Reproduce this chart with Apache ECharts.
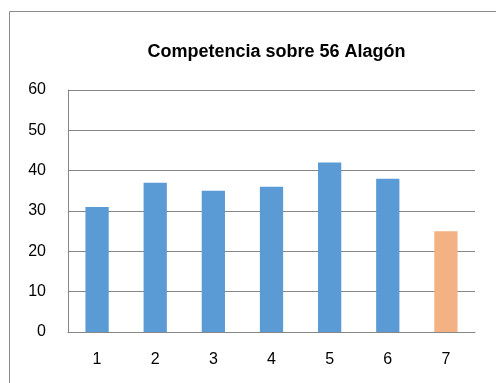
<!DOCTYPE html>
<html>
<head>
<meta charset="utf-8">
<script src="https://cdn.jsdelivr.net/npm/echarts@6/dist/echarts.min.js"></script>
<style>
  html, body { margin: 0; padding: 0; background: #fff; }
  #chart { width: 496px; height: 383px; }
</style>
</head>
<body>
<div id="chart"></div>
<script>
// Chart data
const titleText = 'Competencia sobre 56 Alagón';
const categories = ['1', '2', '3', '4', '5', '6', '7'];
const values = [31, 37, 35, 36, 42, 38, 25];
const barColors = ['#5B9BD5', '#5B9BD5', '#5B9BD5', '#5B9BD5', '#5B9BD5', '#5B9BD5', '#F4B183'];
const yTicks = { min: 0, max: 60, interval: 10 };

const chart = echarts.init(document.getElementById('chart'), null, { renderer: 'canvas' });

const font = 'Liberation Sans, Arial, sans-serif';

chart.setOption({
  animation: false,
  backgroundColor: '#ffffff',
  graphic: [{
    type: 'rect',
    shape: { x: 9.5, y: 11.5, width: 520, height: 420 },
    style: { fill: 'none', stroke: '#8c8c8c', lineWidth: 1 },
    silent: true
  }],
  title: {
    text: titleText,
    left: 271.5,
    textAlign: 'center',
    top: 38,
    textStyle: { fontFamily: font, fontWeight: 'bold', fontSize: 18, color: '#000' }
  },
  grid: { left: 68, right: 21, top: 90, bottom: 51, containLabel: false },
  xAxis: {
    type: 'category',
    data: categories,
    axisLine: { show: true, lineStyle: { color: '#868686', width: 1 } },
    axisTick: { show: false },
    axisLabel: { color: '#000', fontFamily: font, fontSize: 16, margin: 20 }
  },
  yAxis: {
    type: 'value',
    min: yTicks.min,
    max: yTicks.max,
    interval: yTicks.interval,
    axisLine: { show: true, lineStyle: { color: '#868686', width: 1 } },
    axisTick: { show: false },
    splitLine: { show: true, lineStyle: { color: '#868686', width: 1 } },
    axisLabel: { color: '#000', fontFamily: font, fontSize: 16, margin: 22 }
  },
  series: [{
    type: 'bar',
    data: values.map((v, i) => ({ value: v, itemStyle: { color: barColors[i] } })),
    barCategoryGap: '60%'
  }]
});
</script>
</body>
</html>
